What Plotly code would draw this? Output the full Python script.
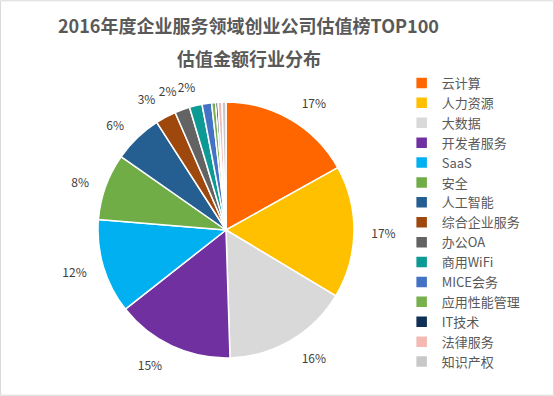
import plotly.graph_objects as go

categories = ["云计算", "人力资源", "大数据", "开发者服务", "SaaS", "安全", "人工智能",
              "综合企业服务", "办公OA", "商用WiFi", "MICE会务", "应用性能管理", "IT技术",
              "法律服务", "知识产权"]
values = [16.9, 16.7, 15.9, 14.9, 11.9, 8.4, 6.2, 2.6, 1.9, 1.6, 1.2, 0.5, 0.3, 0.5, 0.5]
colors = ["#FF6600", "#FFC000", "#D9D9D9", "#7030A0", "#00B0F0", "#70AD47", "#255E91",
          "#9E480E", "#636363", "#0E9A94", "#4472C4", "#77B04D", "#0F2F55", "#F4B9B2", "#C8C8C8"]

total = sum(values)
pcts = [v / total * 100 for v in values]
labels_text = [f"{round(p)}%" if p >= 1.5 else "" for p in pcts]

font_family = "Noto Sans CJK SC, Noto Sans, sans-serif"

W, H = 554, 396
cx, cy, R = 226, 230, 128      # pie centre / radius in pixels
RL = 141                       # radius of invisible label ring


def dom(r, dx=0, dy=0):
    x0, y0 = cx + dx, cy + dy
    return dict(x=[(x0 - r) / W, (x0 + r) / W], y=[(H - y0 - r) / H, (H - y0 + r) / H])


fig = go.Figure()
fig.add_trace(go.Pie(
    labels=categories,
    values=values,
    textinfo="none",
    sort=False,
    direction="clockwise",
    rotation=0,
    marker=dict(colors=colors, line=dict(color="white", width=1.5)),
    domain=dom(R),
    hoverinfo="label+percent",
))

# invisible rings that only carry the outside percentage labels
# (small neighbouring labels go on separate rings so they are not pushed apart)
ring_of = [0, 0, 0, 0, 0, 0, 0, 0, 1, 2, 0, 0, 0, 0, 0]
ring_shift = [(0, 0), (3, 1), (7, 2)]
for ring in range(3):
    pos = ["outside" if (ring_of[i] == ring and labels_text[i]) else "none"
           for i in range(len(values))]
    fig.add_trace(go.Pie(
        labels=categories,
        values=values,
        text=[t if ring_of[i] == ring else "" for i, t in enumerate(labels_text)],
        textinfo="text",
        textposition=pos,
        sort=False,
        direction="clockwise",
        rotation=0,
        marker=dict(colors=["rgba(0,0,0,0)"] * len(values), line=dict(width=0)),
        outsidetextfont=dict(size=12, color="#404040", family=font_family),
        domain=dom(RL, *ring_shift[ring]),
        hoverinfo="skip",
        showlegend=False,
    ))

fig.update_layout(
    width=W, height=H,
    margin=dict(l=0, r=0, t=0, b=0),
    paper_bgcolor="white",
    font=dict(family=font_family, color="#595959"),
    showlegend=True,
    legend=dict(x=0.725, y=1 - 68 / H, xanchor="left", yanchor="top",
                font=dict(size=13, color="#595959", family=font_family),
                tracegroupgap=0, itemwidth=30, bgcolor="rgba(0,0,0,0)"),
    shapes=[dict(type="rect", xref="paper", yref="paper", x0=0.001, y0=0.002, x1=0.999, y1=0.998,
                 line=dict(color="#D9D9D9", width=1))],
    annotations=[
        dict(text="<b>2016年度企业服务领域创业公司估值榜TOP100</b>", x=248 / W, y=1 - 25 / H,
             xref="paper", yref="paper", showarrow=False, xanchor="center", yanchor="middle",
             font=dict(size=18, color="#595959", family=font_family)),
        dict(text="<b>估值金额行业分布</b>", x=249 / W, y=1 - 58 / H,
             xref="paper", yref="paper", showarrow=False, xanchor="center", yanchor="middle",
             font=dict(size=18, color="#595959", family=font_family)),
    ],
)

fig.write_html("out.html", config={"displayModeBar": False},
               post_script="document.body.style.margin='0';")
